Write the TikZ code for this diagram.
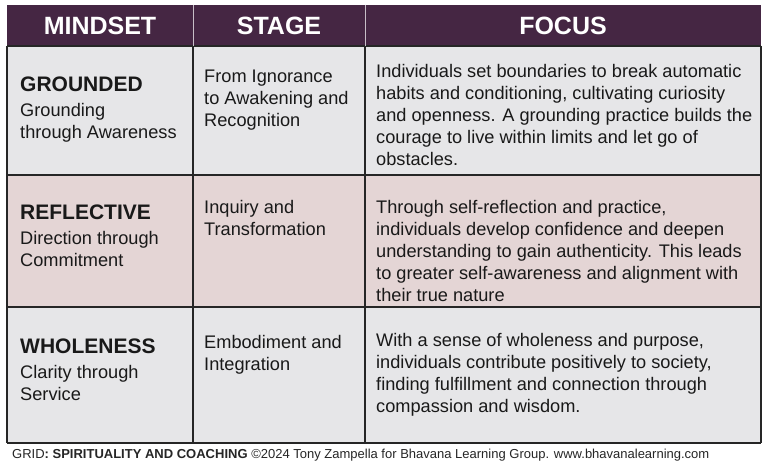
\documentclass[tikz,border=0pt]{standalone}
\usepackage{fontspec}
\setmainfont{Liberation Sans}
\begin{document}
\begin{tikzpicture}[x=1pt,y=-1pt,
  hdr/.style={text=white,font=\fontsize{25}{28}\selectfont\bfseries},
  cell/.style={anchor=north west,inner sep=0pt,align=left,font=\fontsize{18.2}{22}\selectfont,text=black!90}]
\definecolor{hdrc}{RGB}{69,38,67}
\definecolor{grayc}{RGB}{230,230,232}
\definecolor{pinkc}{RGB}{228,213,213}
\useasboundingbox (0,0) rectangle (768,465);
\fill[white] (0,0) rectangle (768,465);
\fill[hdrc] (7,5) rectangle (761,46);
\fill[grayc] (7,46) rectangle (761,175);
\fill[pinkc] (7,175) rectangle (761,307);
\fill[grayc] (7,307) rectangle (761,443);
\draw[black!85,line width=1.2pt] (7,46) -- (761,46) (7,175) -- (761,175) (7,307) -- (761,307) (7,443) -- (761,443) (7,46) -- (7,443) (761,46) -- (761,443)
  (193,46) -- (193,443) (365,46) -- (365,443);
\draw[white!70!hdrc,line width=1pt] (193,5) -- (193,46) (365,5) -- (365,46);
\node[hdr] (h1) at (100,26) {MINDSET};
\node[hdr] (h2) at (279,26) {STAGE};
\node[hdr] (h3) at (563,26) {FOCUS};
% row 1
\node[cell] (m1) at (20,77) {{\fontsize{21}{22}\selectfont\bfseries GROUNDED}\\[3pt]Grounding\\through Awareness};
\node[cell] (s1) at (204,70) {From Ignorance\\to Awakening and\\Recognition};
\node[cell] (f1) at (376,64) {Individuals set boundaries to break automatic\\habits and conditioning, cultivating curiosity\\and openness. A grounding practice builds the\\courage to live within limits and let go of\\obstacles.};
% row 2
\node[cell] (m2) at (20,205) {{\fontsize{21}{22}\selectfont\bfseries REFLECTIVE}\\[3pt]Direction through\\Commitment};
\node[cell] (s2) at (204,200) {Inquiry and\\Transformation};
\node[cell] (f2) at (376,200) {Through self-reflection and practice,\\individuals develop confidence and deepen\\understanding to gain authenticity. This leads\\to greater self-awareness and alignment with\\their true nature};
% row 3
\node[cell] (m3) at (20,339) {{\fontsize{21}{22}\selectfont\bfseries WHOLENESS}\\[3pt]Clarity through\\Service};
\node[cell] (s3) at (204,335) {Embodiment and\\Integration};
\node[cell] (f3) at (376,333) {With a sense of wholeness and purpose,\\individuals contribute positively to society,\\finding fulfillment and connection through\\compassion and wisdom.};
\node[anchor=west,inner sep=0pt,font=\fontsize{13}{15}\selectfont,text=black!85] (ft) at (12,455) {GRID\textbf{: SPIRITUALITY AND COACHING} ©2024 Tony Zampella for Bhavana Learning Group. www.bhavanalearning.com};
\end{tikzpicture}
\end{document}
